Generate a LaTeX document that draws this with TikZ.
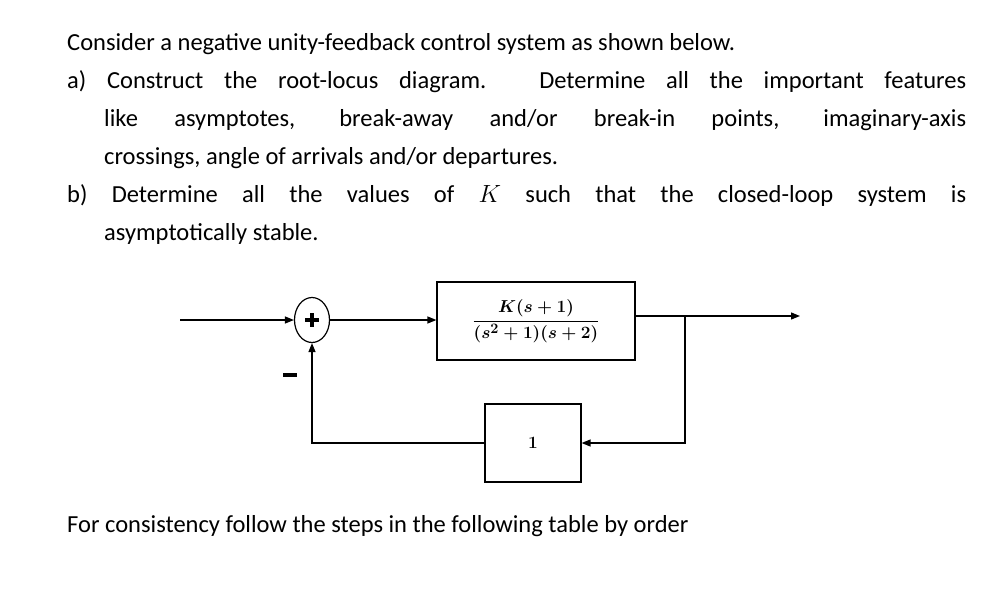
\documentclass[tikz,border=0pt]{standalone}
\usepackage{amsmath}
\usepackage{fontspec}
\setmainfont{Carlito}
\usetikzlibrary{arrows.meta,shapes.geometric}
\begin{document}
\begin{tikzpicture}[x=1pt,y=-1pt,
  txt/.style={anchor=base west,inner sep=0pt,font=\fontsize{24.5}{28}\selectfont},
  blk/.style={draw,line width=1.2pt,inner sep=0pt,font=\boldmath\fontsize{19}{22}\selectfont},
  sig/.style={line width=1.3pt,-{Triangle[length=9pt,width=7pt]}}]
\path[use as bounding box,fill=white] (0,0) rectangle (997,590);
\node[txt] (l1) at (67,50) {Consider a negative unity-feedback control system as shown below.};
\node[txt] (l2) at (67,88) {\makebox[899pt][s]{a) Construct the root-locus diagram. Determine all the important features}};
\node[txt] (l3) at (104,126) {\makebox[862pt][s]{like asymptotes, break-away and/or break-in points, imaginary-axis}};
\node[txt] (l4) at (104,164) {crossings, angle of arrivals and/or departures.};
\node[txt] (l5) at (67,202) {\makebox[899pt][s]{b) Determine all the values of $K$ such that the closed-loop system is}};
\node[txt] (l6) at (104,240) {asymptotically stable.};
\node[txt] (l7) at (67,532) {For consistency follow the steps in the following table by order};

\coordinate (in) at (180,320);
\node[draw,ellipse,line width=1.2pt,minimum width=35pt,minimum height=45pt,inner sep=0pt] (sum) at (312,320) {};
\node[fill=black,inner sep=0pt,minimum width=4pt,minimum height=14pt] (pv) at (312,320) {};
\node[fill=black,inner sep=0pt,minimum width=14pt,minimum height=4pt] (ph) at (312,320) {};
\node[blk,minimum width=198pt,minimum height=78pt] (G) at (536,321) {$\displaystyle\frac{K(s+1)}{(s^{2}+1)(s+2)}$};
\node[blk,minimum width=96pt,minimum height=78pt] (H) at (533,443) {$1$};
\coordinate (out) at (800,316);
\coordinate (br) at (685,316);
\node[fill=black,inner sep=0pt,minimum width=14pt,minimum height=4pt] (minus) at (290,375) {};
\draw[sig] (in) -- (sum.west);
\draw[sig] (sum.east) -- (G.west |- sum.east);
\draw[sig] (G.east |- out) -- (out);
\draw[sig] (br) |- (H.east);
\draw[sig] (H.west) -| (sum.south);
\end{tikzpicture}
\end{document}
